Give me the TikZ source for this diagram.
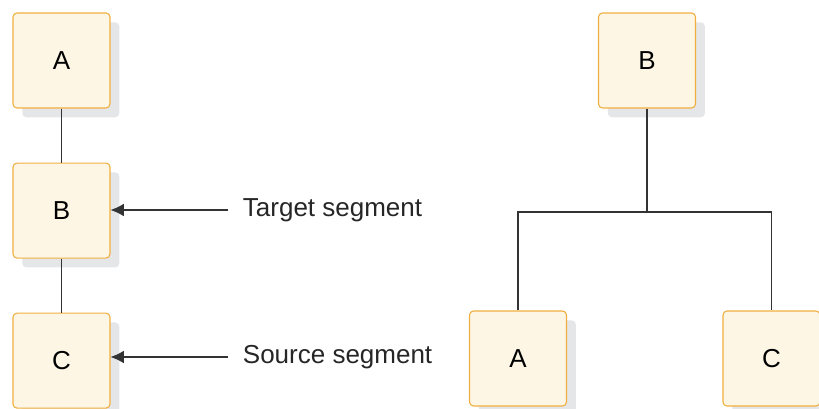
\documentclass[tikz,border=0pt]{standalone}
\usepackage{fontspec}
\setmainfont{Liberation Sans}
\usepackage{tikz}
\usetikzlibrary{arrows.meta}
\usetikzlibrary{calc,shadows,positioning}

\definecolor{segfill}{HTML}{FDF6E4}
\definecolor{segdraw}{HTML}{F0AE40}
\definecolor{segshadow}{HTML}{E5E6E8}
\definecolor{linkcol}{HTML}{333333}

\begin{document}
\begin{tikzpicture}[
		x=0.75pt, y=-0.75pt,
		font=\fontsize{19.5}{23}\selectfont,
		segment/.style = {draw=segdraw, fill=segfill, line width=0.8pt, rounded corners=3pt,
			minimum width=72.75pt, minimum height=71.25pt, inner sep=0pt,
			drop shadow={shadow xshift=7pt, shadow yshift=-7pt, fill=segshadow, opacity=1}},
		link/.style = {draw=linkcol, line width=0.8pt},
		lbl/.style = {anchor=west, inner xsep=11pt, inner ysep=0pt, text=black!85},
	]
			\useasboundingbox (0,0) rectangle (819,409);

			% hierarchy on the left
			\node[segment] (segA) at (61.5,60.5) {A};
			\node[segment, below=40.5pt of segA] (segB) {B};
			\node[segment, below=40.5pt of segB] (segC) {C};
			\draw[link] (segA) -- (segB);
			\draw[link] (segB) -- (segC);

			\node[lbl] (target) at (228,210) {Target segment};
			\node[lbl] (source) at (228,357) {Source segment};
			\draw[link, -{Latex[length=10pt, width=9.5pt]}] (target.west) -- (target.west -| segB.east);
			\draw[link, -{Latex[length=10pt, width=9.5pt]}] (source.west) -- (source.west -| segC.east);

			% hierarchy on the right
			\node[segment] (rootB) at (647,60.5) {B};
			\node[segment] (leafA) at (518,358.5) {A};
			\node[segment] (leafC) at (771.5,358.5) {C};
			\coordinate (fork) at (647,212);
			\draw[link] (rootB) -- (fork);
			\draw[link] (fork) -| (leafA);
			\draw[link] (fork) -| (leafC);

		\end{tikzpicture}
\end{document}
